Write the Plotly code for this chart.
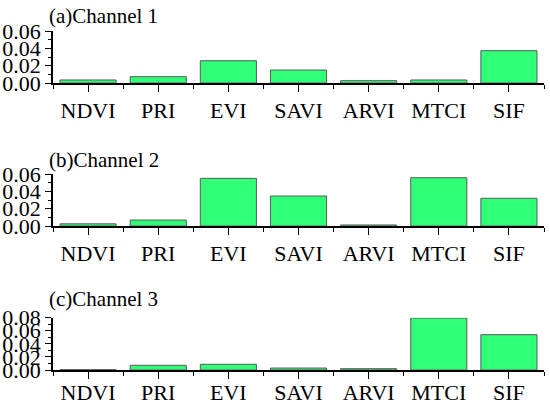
import plotly.graph_objects as go

categories = ["NDVI", "PRI", "EVI", "SAVI", "ARVI", "MTCI", "SIF"]
channel1 = [0.0035, 0.0073, 0.0257, 0.0150, 0.0027, 0.0035, 0.0373]
channel2 = [0.0025, 0.0069, 0.0550, 0.0346, 0.0012, 0.0557, 0.0320]
channel3 = [0.0005, 0.0072, 0.0087, 0.0030, 0.0020, 0.0795, 0.0540]
titles = ["(a)Channel 1", "(b)Channel 2", "(c)Channel 3"]
yranges = [0.06, 0.06, 0.08]

FONT = "Liberation Serif, Times New Roman, serif"
H = 406.0
# pixel positions (top, bottom) of each plot area
panels_px = [(31, 83), (174, 226), (317.7, 370)]
title_px = [16, 160, 299]
xlabel_standoff = [0, 0, -5]

fig = go.Figure()
series = [channel1, channel2, channel3]
x_idx = list(range(len(categories)))

for i, (vals, (top, bot)) in enumerate(zip(series, panels_px)):
    n = i + 1
    xa = "x" if n == 1 else f"x{n}"
    ya = "y" if n == 1 else f"y{n}"
    fig.add_trace(go.Bar(
        x=x_idx, y=vals, width=0.8,
        marker=dict(color="#30ff78", line=dict(color="#5a5a5a", width=1)),
        xaxis=xa, yaxis=ya, showlegend=False,
    ))
    xkey = "xaxis" if n == 1 else f"xaxis{n}"
    ykey = "yaxis" if n == 1 else f"yaxis{n}"
    fig.layout[xkey] = dict(
        domain=[0, 1], anchor=ya, range=[-0.5, 6.5], automargin=False,
        tickmode="array", tickvals=x_idx, ticktext=categories,
        ticks="outside", ticklen=7, tickwidth=1.3, tickcolor="black",
        ticklabelstandoff=xlabel_standoff[i],
        showline=True, linecolor="black", linewidth=1.5,
        showgrid=False, zeroline=False,
        minor=dict(ticks="outside", ticklen=4, tickcolor="black", tickwidth=1.3,
                   tick0=0.5, dtick=1, showgrid=False),
        tickfont=dict(family=FONT, size=22, color="black"),
        fixedrange=True,
    )
    fig.layout[ykey] = dict(
        domain=[1 - bot / H, 1 - top / H], anchor=xa, automargin=False,
        range=[0, yranges[i]], dtick=0.02, tick0=0, tickformat=".2f",
        ticks="outside", ticklen=6, tickwidth=1.3, tickcolor="black",
        showline=True, linecolor="black", linewidth=1.5,
        showgrid=False, zeroline=False,
        minor=dict(ticks="outside", ticklen=3, tickcolor="black", tickwidth=1.3,
                   dtick=0.01, showgrid=False),
        tickfont=dict(family=FONT, size=22, color="black"),
        fixedrange=True,
    )
    fig.add_annotation(
        text=titles[i], xref="paper", yref="paper",
        x=-6 / 491, y=1 - title_px[i] / H, xanchor="left", yanchor="middle",
        showarrow=False, font=dict(family=FONT, size=21, color="black"),
    )

fig.update_layout(
    width=550, height=406,
    margin=dict(l=53, r=6, t=0, b=0),
    paper_bgcolor="white", plot_bgcolor="white",
    bargap=0.2,
)

fig.write_html("out.html", config={"displayModeBar": False},
               post_script="document.body.style.margin='0';document.body.style.overflow='hidden';")
